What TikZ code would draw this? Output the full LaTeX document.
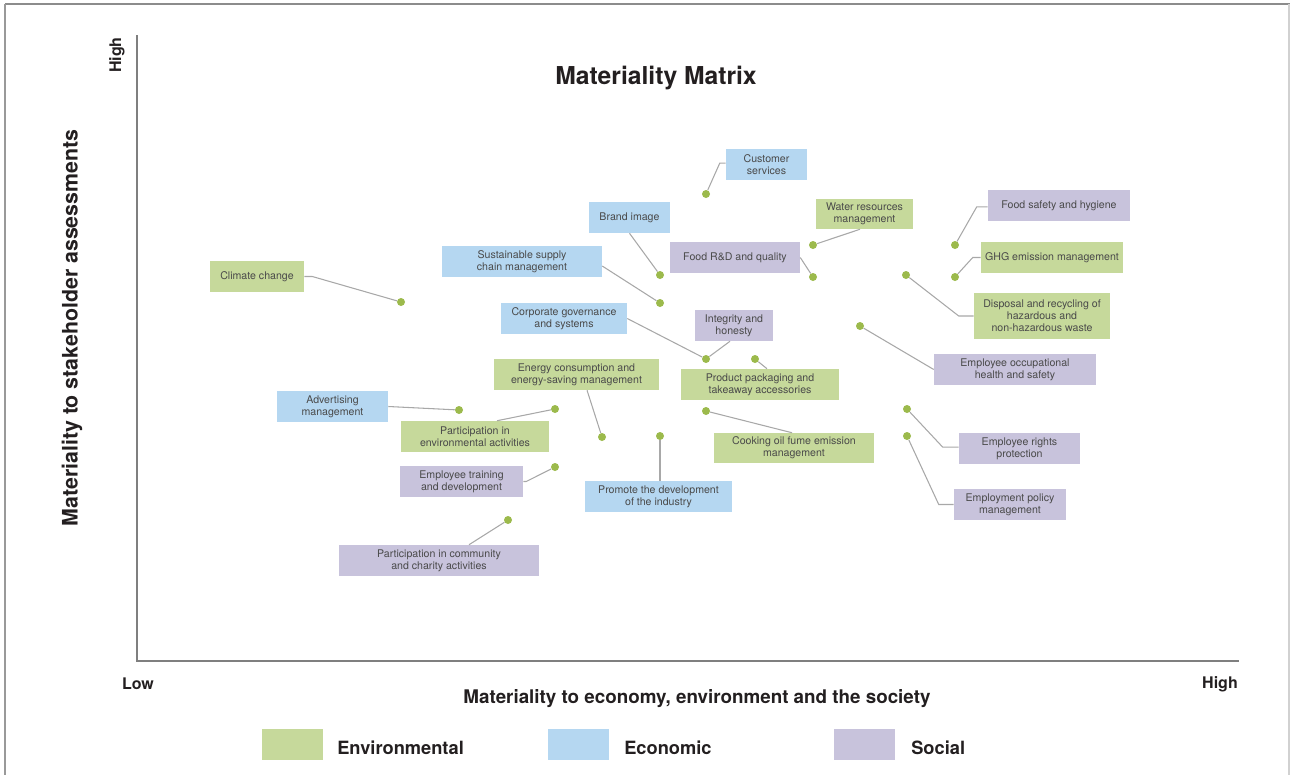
\documentclass[tikz,border=0pt]{standalone}
\usepackage{fontspec}
\setmainfont{TeX Gyre Heros}
\definecolor{envc}{HTML}{C6D99B}
\definecolor{ecoc}{HTML}{B5D7F1}
\definecolor{socc}{HTML}{C8C3DC}
\definecolor{dotc}{HTML}{9CBA4C}
\definecolor{connc}{HTML}{A8A8A8}
\definecolor{boxtxt}{HTML}{4A4A4A}
\definecolor{lbl}{HTML}{231F20}
\definecolor{axisc}{HTML}{7F7F7F}
\begin{document}
\begin{tikzpicture}[x=0.75pt,y=-0.75pt,
  box/.style={rectangle, inner sep=0pt, minimum height=23.25pt, align=center,
    text=boxtxt, font=\fontsize{7.95}{9}\selectfont},
  bw/.style={minimum width=#1*0.75pt},
  bh/.style={minimum height=#1*0.75pt},
  envbox/.style={box, fill=envc},
  ecobox/.style={box, fill=ecoc},
  socbox/.style={box, fill=socc},
  pt/.style={circle, fill=dotc, inner sep=0pt, minimum size=6pt},
  conn/.style={draw=connc, line width=0.8pt},
  axisline/.style={draw=axisc, line width=1.9pt},
  biglbl/.style={text=lbl, font=\bfseries\fontsize{14.1}{16}\selectfont, inner sep=0pt},
  hilo/.style={text=lbl, font=\bfseries\fontsize{12}{14}\selectfont, inner sep=0pt},
  legsq/.style={rectangle, inner sep=0pt, minimum width=45.75pt, minimum height=23.25pt}
]
\useasboundingbox (0,0) rectangle (1290,775);
% frame
\draw[draw=black!45, line width=1.2pt] (5,4) -- (1290,4);
\draw[draw=black!40, line width=1.5pt] (5,4) -- (5,775);
\draw[draw=black!18, line width=1.2pt] (1289,4) -- (1289,775);
% axes
\coordinate (ytop) at (137,35);
\coordinate (origin) at (137,661);
\coordinate (xend) at (1239,661);
\draw[axisline] (ytop) -- (origin) -- (xend);
% titles
\node[text=lbl, font=\bfseries\fontsize{18.5}{21}\selectfont, inner sep=0pt] (title) at (656,78) {Materiality Matrix};
\node[biglbl, font=\bfseries\fontsize{16}{18}\selectfont, rotate=90] (ylab) at (72,328) {Materiality to stakeholder assessments};
\node[biglbl] (xlab) at (697,699) {Materiality to economy, environment and the society};
\node[hilo, rotate=90] (yhigh) at (117,55) {High};
\node[hilo] (xlow) at (138,684) {Low};
\node[hilo] (xhigh) at (1220,684) {High};
% legend
\node[legsq, fill=envc] (lgenv) at (292,744) {};
\node[legsq, fill=ecoc] (lgeco) at (578,744) {};
\node[legsq, fill=socc] (lgsoc) at (864,744) {};
\node[biglbl, anchor=west, font=\bfseries\fontsize{13.7}{16}\selectfont] (lgenvt) at (337,748) {Environmental};
\node[biglbl, anchor=west, font=\bfseries\fontsize{13.7}{16}\selectfont] (lgecot) at (624,748) {Economic};
\node[biglbl, anchor=west, font=\bfseries\fontsize{13.7}{16}\selectfont] (lgsoct) at (911,748) {Social};
% boxes
\node[ecobox, bw=81] (cs) at (766.5,164.5) {Customer\\services};
\node[ecobox, bw=81] (bi) at (629.5,217.5) {Brand image};
\node[ecobox, bw=160] (ss) at (522,261.5) {Sustainable supply\\chain management};
\node[socbox, bw=130] (fr) at (735,257.5) {Food R\&D and quality};
\node[envbox, bw=97, bh=30] (wr) at (864.5,214) {Water resources\\management};
\node[ecobox, bw=126] (cg) at (564,318.5) {Corporate governance\\and systems};
\node[socbox, bw=78] (ih) at (734,325.5) {Integrity and\\honesty};
\node[envbox, bw=165] (ec) at (576.5,374.5) {Energy consumption and\\energy-saving management};
\node[envbox, bw=158] (pp) at (760,384.5) {Product packaging and\\takeaway accessories};
\node[ecobox, bw=111] (am) at (332.5,406.5) {Advertising\\management};
\node[envbox, bw=148] (pe) at (475,436.5) {Participation in\\environmental activities};
\node[socbox, bw=123] (et) at (461.5,481.5) {Employee training\\and development};
\node[socbox, bw=200] (pc) at (439,560.5) {Participation in community\\and charity activities};
\node[ecobox, bw=147] (pd) at (658.5,496.5) {Promote the development\\of the industry};
\node[envbox, bw=160, bh=30] (co) at (794,448) {Cooking oil fume emission\\management};
\node[envbox, bw=94] (cc) at (257,276.5) {Climate change};
\node[socbox, bw=142] (fs) at (1059,205.5) {Food safety and hygiene};
\node[envbox, bw=142] (gh) at (1052,257.5) {GHG emission management};
\node[envbox, bw=136, bh=46] (dr) at (1042,316) {Disposal and recycling of\\hazardous and\\non-hazardous waste};
\node[socbox, bw=162] (eo) at (1015,369.5) {Employee occupational\\health and safety};
\node[socbox, bw=121] (er) at (1019.5,448.5) {Employee rights\\protection};
\node[socbox, bw=112] (ep) at (1010,504.5) {Employment policy\\management};
% dots
\node[pt] (dcs) at (706,194) {};
\node[pt] (dbi) at (660,275) {};
\node[pt] (dss) at (660,303) {};
\node[pt] (dfr) at (813,277) {};
\node[pt] (dwr) at (813,245) {};
\node[pt] (dcg) at (706,359) {};
\node[pt] (dec) at (602,437) {};
\node[pt] (dpp) at (755,359) {};
\node[pt] (dam) at (459,410) {};
\node[pt] (dpe) at (555,409) {};
\node[pt] (det) at (555,467) {};
\node[pt] (dpc) at (508,520) {};
\node[pt] (dpd) at (660,436) {};
\node[pt] (dco) at (706,411) {};
\node[pt] (dcc) at (401,302) {};
\node[pt] (dfs) at (955,245) {};
\node[pt] (dgh) at (955,277) {};
\node[pt] (ddr) at (906,275) {};
\node[pt] (deo) at (860,326) {};
\node[pt] (der) at (907,409) {};
\node[pt] (dep) at (907,436) {};
% connectors
\draw[conn] (dcs) -- ([xshift=-4.5pt,yshift=1pt]cs.west) -- ([yshift=1pt]cs.west);
\draw[conn] (bi.south) -- (dbi);
\draw[conn] ([yshift=-3.4pt]ss.east) -- (dss);
\draw[conn] (fr.east) -- (dfr);
\draw[conn] (dwr) -- ([xshift=-3.4pt]wr.south);
\draw[conn] (cg.east) -- (dcg);
\draw[conn] ([xshift=-3pt]ih.south) -- (dcg);
\draw[conn] ([xshift=7.9pt]ec.south) -- (dec);
\draw[conn] (dpp) -- ([xshift=5.25pt]pp.north);
\draw[conn] (am.east) -- (dam);
\draw[conn] ([xshift=16.5pt]pe.north) -- (dpe);
\draw[conn] (et.east) -- ++(3,0) -- (det);
\draw[conn] ([xshift=22.5pt]pc.north) -- (dpc);
\draw[conn] (dpd |- pd.north) -- (dpd);
\draw[conn] (dco) -- ([xshift=-1.5pt]co.north);
\draw[conn] (cc.east) -- ++(8,0) -- (dcc);
\draw[conn] (dfs) -- ([xshift=-8.25pt,yshift=-1pt]fs.west) -- ([yshift=-1pt]fs.west);
\draw[conn] (dgh) -- ([xshift=-6pt]gh.west) -- (gh.west);
\draw[conn] (ddr) -- ([xshift=-11.25pt]dr.west) -- (dr.west);
\draw[conn] (deo) -- (eo.west);
\draw[conn] (der) -- ([xshift=-12pt,yshift=1pt]er.west) -- ([yshift=1pt]er.west);
\draw[conn] (dep) -- ([xshift=-11.25pt]ep.west) -- (ep.west);
\end{tikzpicture}
\end{document}
